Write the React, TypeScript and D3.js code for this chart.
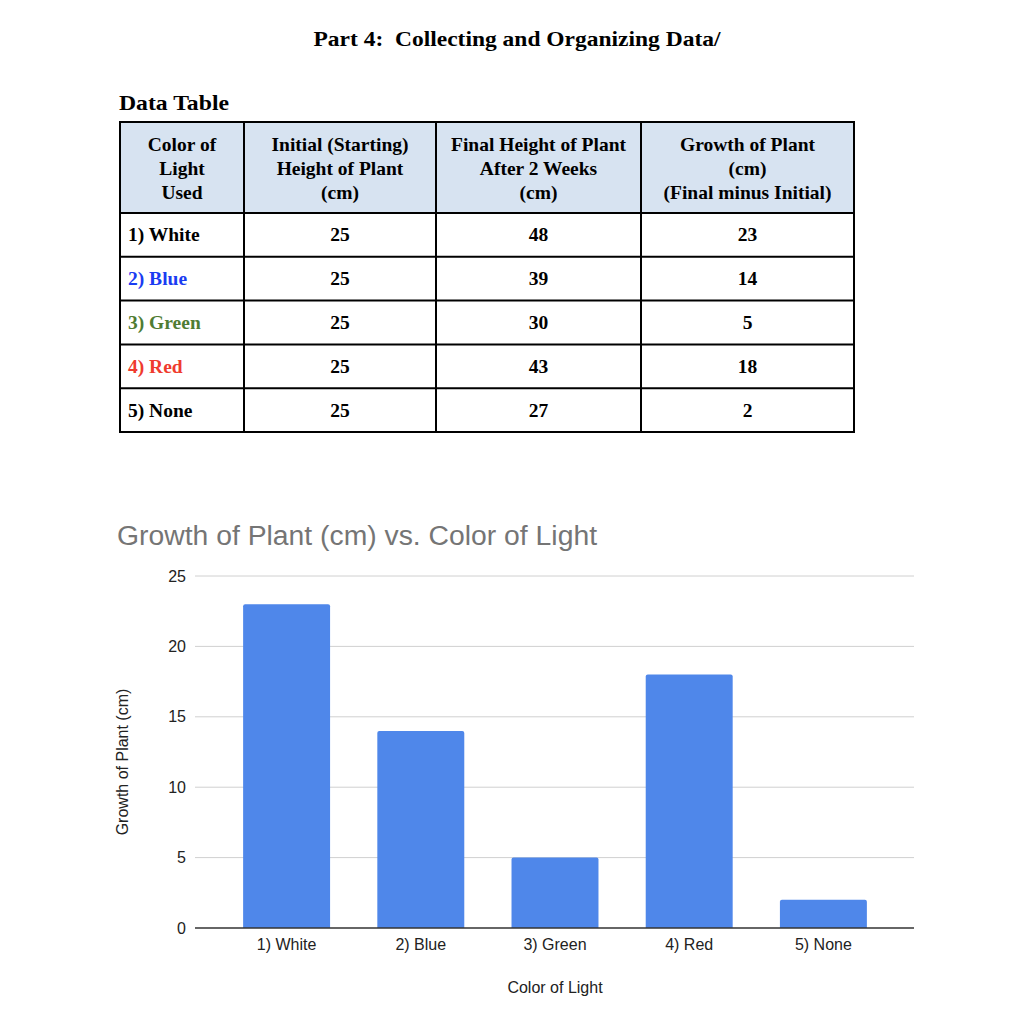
import React from "react";
import * as d3 from "d3";

const colors = ["1) White", "2) Blue", "3) Green", "4) Red", "5) None"];
const colorLabelFill = ["#000000", "#1a3cf2", "#4f7c33", "#ef3b2e", "#000000"];
const initialHeight = [25, 25, 25, 25, 25];
const finalHeight = [48, 39, 30, 43, 27];
const growth = [23, 14, 5, 18, 2];
const headerLines = [
  ["Color of", "Light", "Used"],
  ["Initial (Starting)", "Height of Plant", "(cm)"],
  ["Final Height of Plant", "After 2 Weeks", "(cm)"],
  ["Growth of Plant", "(cm)", "(Final minus Initial)"],
];
const yTicks = [0, 5, 10, 15, 20, 25];

const serif = "'Liberation Serif', 'Times New Roman', serif";
const sans = "'Liberation Sans', Arial, sans-serif";

export default function App() {
  // table geometry
  const colX = [120, 244, 436, 641, 854];
  const headTop = 122;
  const headBottom = 213;
  const rowH = 43.8;
  const tableBottom = headBottom + rowH * colors.length;

  const rows = colors.map((c, i) => ({
    label: c,
    fill: colorLabelFill[i],
    vals: [initialHeight[i], finalHeight[i], growth[i]],
  }));

  // chart geometry
  const x = d3
    .scaleBand<string>()
    .domain(colors)
    .range([219.5, 890.5])
    .paddingInner(0.352)
    .paddingOuter(0.176);
  const y = d3.scaleLinear().domain([0, 25]).range([928, 576]);
  const gridLeft = 195;
  const gridRight = 914;

  const cellFont = 19.5;
  const axisFont = 16;

  return (
    <svg
      width={1018}
      height={1024}
      style={{ position: "absolute", left: 0, top: 0, background: "#fff" }}
    >
      <rect x={0} y={0} width={1018} height={1024} fill="#fff" />
      <text
        x={517}
        y={46}
        textAnchor="middle"
        fontFamily={serif}
        fontWeight="bold"
        fontSize={22}
        textLength={407}
        lengthAdjust="spacingAndGlyphs"
        fill="#000"
        style={{ whiteSpace: "pre" }}
      >
        {"Part 4:  Collecting and Organizing Data/"}
      </text>
      <text
        x={119}
        y={110}
        fontFamily={serif}
        fontWeight="bold"
        fontSize={22}
        textLength={110}
        lengthAdjust="spacingAndGlyphs"
        fill="#000"
      >
        Data Table
      </text>

      {/* table header background */}
      <rect
        x={colX[0]}
        y={headTop}
        width={colX[4] - colX[0]}
        height={headBottom - headTop}
        fill="#d7e3f1"
      />
      {headerLines.map((lines, ci) =>
        lines.map((ln, li) => (
          <text
            key={`h${ci}-${li}`}
            x={(colX[ci] + colX[ci + 1]) / 2}
            y={151 + li * 24}
            textAnchor="middle"
            fontFamily={serif}
            fontWeight="bold"
            fontSize={cellFont}
            fill="#000"
          >
            {ln}
          </text>
        ))
      )}
      {rows.map((r, ri) => {
        const cy = headBottom + rowH * ri + rowH / 2;
        return (
          <g key={r.label}>
            <text
              x={128}
              y={cy + 6.5}
              fontFamily={serif}
              fontWeight="bold"
              fontSize={cellFont}
              fill={r.fill}
            >
              {r.label}
            </text>
            {r.vals.map((v, vi) => (
              <text
                key={vi}
                x={(colX[vi + 1] + colX[vi + 2]) / 2}
                y={cy + 6.5}
                textAnchor="middle"
                fontFamily={serif}
                fontWeight="bold"
                fontSize={cellFont}
                fill="#000"
              >
                {v}
              </text>
            ))}
          </g>
        );
      })}
      {/* table grid */}
      <g stroke="#000" strokeWidth={2} fill="none">
        <rect x={colX[0]} y={headTop} width={colX[4] - colX[0]} height={tableBottom - headTop} />
        {colX.slice(1, 4).map((cx) => (
          <line key={cx} x1={cx} x2={cx} y1={headTop} y2={tableBottom} />
        ))}
        {d3.range(colors.length).map((i) => (
          <line
            key={i}
            x1={colX[0]}
            x2={colX[4]}
            y1={headBottom + rowH * i}
            y2={headBottom + rowH * i}
          />
        ))}
      </g>

      {/* chart */}
      <text
        x={117}
        y={545}
        fontFamily={sans}
        fontSize={27}
        textLength={480}
        lengthAdjust="spacingAndGlyphs"
        fill="#757575"
      >
        Growth of Plant (cm) vs. Color of Light
      </text>
      {yTicks.map((t) => (
        <g key={t}>
          {t > 0 && (
            <line
              x1={gridLeft}
              x2={gridRight}
              y1={y(t)}
              y2={y(t)}
              stroke="#d0d0d0"
              strokeWidth={1}
            />
          )}
          <text
            x={186}
            y={y(t) + 5.5}
            textAnchor="end"
            fontFamily={sans}
            fontSize={axisFont}
            fill="#222"
          >
            {t}
          </text>
        </g>
      ))}
      {colors.map((c, i) => {
        const bx = x(c)!;
        const bw = x.bandwidth();
        const top = y(growth[i]);
        const bottom = y(0);
        const r = 2;
        const path = `M${bx},${bottom} L${bx},${top + r} Q${bx},${top} ${bx + r},${top} L${
          bx + bw - r
        },${top} Q${bx + bw},${top} ${bx + bw},${top + r} L${bx + bw},${bottom} Z`;
        return <path key={c} d={path} fill="#4f87ea" />;
      })}
      <line x1={gridLeft} x2={gridRight} y1={y(0)} y2={y(0)} stroke="#333" strokeWidth={1.3} />
      {colors.map((c) => (
        <text
          key={c}
          x={x(c)! + x.bandwidth() / 2}
          y={950}
          textAnchor="middle"
          fontFamily={sans}
          fontSize={axisFont}
          fill="#222"
        >
          {c}
        </text>
      ))}
      <text x={555} y={993} textAnchor="middle" fontFamily={sans} fontSize={axisFont} fill="#222">
        Color of Light
      </text>
      <text
        transform={`translate(128,762) rotate(-90)`}
        textAnchor="middle"
        fontFamily={sans}
        fontSize={axisFont}
        fill="#222"
      >
        Growth of Plant (cm)
      </text>
    </svg>
  );
}
